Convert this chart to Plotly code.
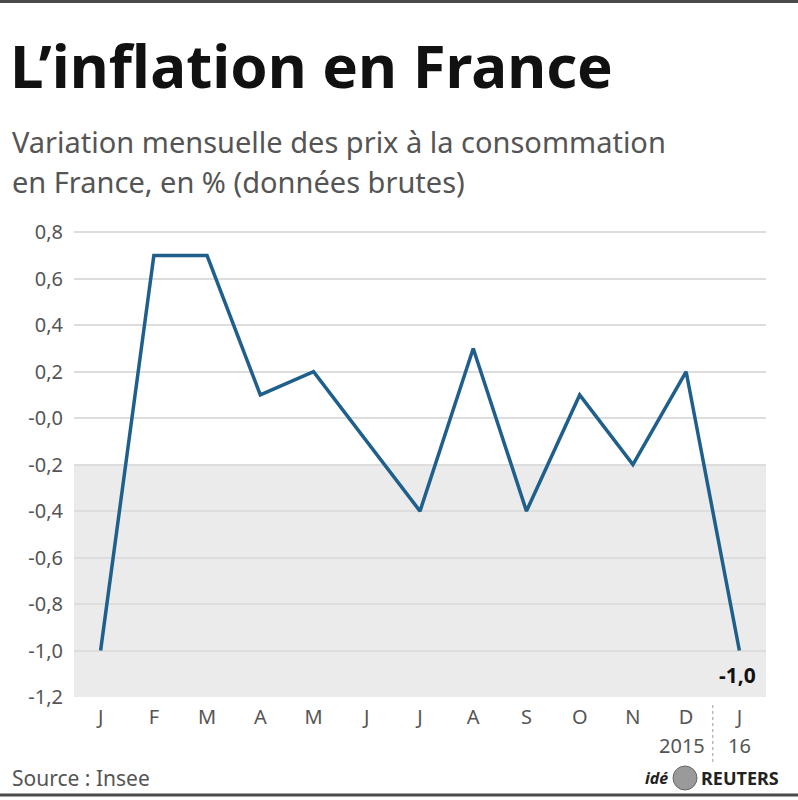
import plotly.graph_objects as go

# =====================================================
# DATA
# =====================================================

months = ["J", "F", "M", "A", "M", "J", "J", "A", "S", "O", "N", "D", "J"]
values = [-1.0, 0.7, 0.7, 0.1, 0.2, -0.1, -0.4, 0.3, -0.4, 0.1, -0.2, 0.2, -1.0]
y_ticks = [0.8, 0.6, 0.4, 0.2, 0.0, -0.2, -0.4, -0.6, -0.8, -1.0, -1.2]
y_labels = ["0,8", "0,6", "0,4", "0,2", "-0,0", "-0,2", "-0,4", "-0,6", "-0,8", "-1,0", "-1,2"]
years = ["2015", "16"]

# =====================================================
# LAYOUT HELPERS (pixel -> paper)
# =====================================================

W, H = 798, 800
L, R, T, B = 74, 32, 230, 103
PW = W - L - R
PH = H - T - B


def px_x(x):
    return (x - L) / PW


def px_y(y):
    return (H - B - y) / PH


FONT = "Noto Sans"
GRAY = "#555555"

# =====================================================
# FIGURE
# =====================================================

fig = go.Figure()

fig.add_trace(
    go.Scatter(
        x=list(range(len(months))),
        y=values,
        mode="lines",
        line=dict(color="#1f5f8b", width=3.5),
        hoverinfo="skip",
        showlegend=False
    )
)

# shaded band below -0,2
fig.add_shape(
    type="rect", xref="paper", yref="y",
    x0=0, x1=1, y0=-1.2, y1=-0.2,
    fillcolor="#ebebeb", line_width=0, layer="below"
)
fig.add_shape(
    type="line", xref="paper", yref="y",
    x0=0, x1=1, y0=-0.2, y1=-0.2,
    line=dict(color="#7a7a7a", width=1.5), layer="below"
)

# year separator
fig.add_shape(
    type="line", xref="x", yref="paper",
    x0=11.5, x1=11.5, y0=px_y(705), y1=px_y(762),
    line=dict(color="#aaaaaa", width=1.2, dash="dot")
)

# frame lines
fig.add_shape(
    type="line", xref="paper", yref="paper",
    x0=px_x(0), x1=px_x(W), y0=px_y(1.5), y1=px_y(1.5),
    line=dict(color="#4a4a4a", width=3)
)
fig.add_shape(
    type="line", xref="paper", yref="paper",
    x0=px_x(0), x1=px_x(W), y0=px_y(795), y1=px_y(795),
    line=dict(color="#4a4a4a", width=3)
)

# last value label
fig.add_annotation(
    x=12, y=-1.0, xref="x", yref="y",
    text="<b>-1,0</b>", showarrow=False,
    yshift=-24, xshift=-2,
    font=dict(family=FONT, size=21, color="#111111")
)

# year labels
fig.add_annotation(
    x=11.5, y=px_y(745), xref="x", yref="paper",
    text=years[0], showarrow=False, xanchor="right", yanchor="middle",
    xshift=-6,
    font=dict(family=FONT, size=20, color=GRAY)
)
fig.add_annotation(
    x=12, y=px_y(745), xref="x", yref="paper",
    text=years[1], showarrow=False, yanchor="middle",
    font=dict(family=FONT, size=20, color=GRAY)
)

# subtitle
fig.add_annotation(
    x=px_x(10), y=px_y(142), xref="paper", yref="paper",
    text="Variation mensuelle des prix à la consommation",
    showarrow=False, xanchor="left", yanchor="middle",
    font=dict(family=FONT, size=29, color=GRAY)
)
fig.add_annotation(
    x=px_x(10), y=px_y(182), xref="paper", yref="paper",
    text="en France, en % (données brutes)",
    showarrow=False, xanchor="left", yanchor="middle",
    font=dict(family=FONT, size=29, color=GRAY)
)

# source
fig.add_annotation(
    x=px_x(10), y=px_y(778), xref="paper", yref="paper",
    text="Source : Insee", showarrow=False,
    xanchor="left", yanchor="middle",
    font=dict(family=FONT, size=21, color=GRAY)
)

# logo
fig.add_annotation(
    x=px_x(670), y=px_y(778), xref="paper", yref="paper",
    text="<b><i>idé</i></b>", showarrow=False,
    xanchor="right", yanchor="middle",
    font=dict(family=FONT, size=16, color="#222222")
)
fig.add_shape(
    type="circle", xref="paper", yref="paper",
    x0=px_x(673), x1=px_x(697), y0=px_y(790), y1=px_y(766),
    fillcolor="#9a9a9a", line=dict(color="#666666", width=1)
)
fig.add_annotation(
    x=px_x(699), y=px_y(778), xref="paper", yref="paper",
    text="<b>REUTERS</b>", showarrow=False,
    xanchor="left", yanchor="middle",
    font=dict(family=FONT, size=18, color="#222222")
)

fig.update_layout(
    width=W,
    height=H,
    margin=dict(l=L, r=R, t=T, b=B),
    paper_bgcolor="white",
    plot_bgcolor="white",
    title=dict(
        text="<b>L’inflation en France</b>",
        x=10 / W, xanchor="left", xref="container",
        y=1 - 67 / H, yanchor="middle", yref="container",
        font=dict(family=FONT, size=60, color="#111111")
    ),
    xaxis=dict(
        range=[-0.5, 12.5],
        tickvals=list(range(len(months))),
        ticktext=months,
        showgrid=False,
        zeroline=False,
        showline=False,
        ticks="",
        ticklabelstandoff=6,
        tickfont=dict(family=FONT, size=20, color=GRAY)
    ),
    yaxis=dict(
        range=[-1.2, 0.81],
        tickvals=y_ticks,
        ticktext=y_labels,
        showgrid=True,
        gridcolor="#dddddd",
        gridwidth=1.5,
        zeroline=False,
        showline=False,
        ticks="",
        ticklabelstandoff=10,
        tickfont=dict(family=FONT, size=20, color=GRAY)
    )
)

fig.write_html(
    "out.html",
    config={"displayModeBar": False},
    post_script="document.body.style.margin = '0';"
)
